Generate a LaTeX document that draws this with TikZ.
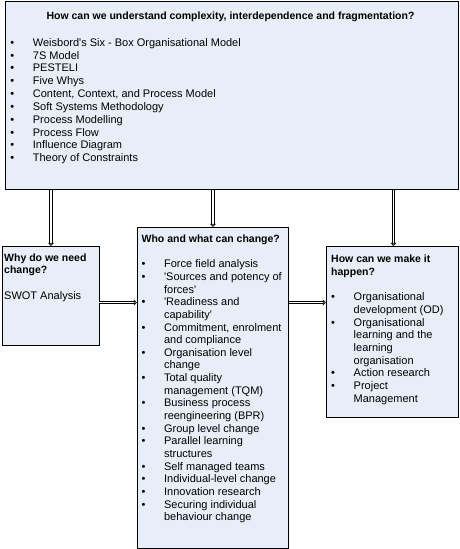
\documentclass[tikz,border=0pt]{standalone}
\usepackage{fontspec}
\setmainfont{Liberation Sans}
\usetikzlibrary{arrows.meta}
\definecolor{boxfill}{RGB}{232,238,247}
\tikzset{
  box/.style={draw=black, line width=0.9pt, fill=boxfill, anchor=north west, inner sep=0pt},
  txt/.style={anchor=north west, inner sep=0pt, align=left, font=\fontsize{11}{12.65}\selectfont},
  hd/.style={anchor=base, inner sep=0pt, font=\fontsize{10.5}{12.7}\selectfont\bfseries},
  conn/.style={draw=black, line width=0.8pt, double=white, double distance=1.6pt,
    -{Triangle[open, length=3.2pt, width=6pt]}}
}
\newcommand\bl{\makebox[22.5pt][l]{•}}
\newcommand\ind{\hspace*{22.5pt}}
\newcommand\sq{\textquotesingle}
\newcommand\hb[1]{{\fontsize{10.5}{12.65}\selectfont\bfseries #1}}
\begin{document}
\begin{tikzpicture}[x=1pt,y=-1pt]
\useasboundingbox (0,0) rectangle (459,549);
\node[box, minimum width=453pt, minimum height=188pt] (top) at (5,1) {};
\node[box, minimum width=97pt, minimum height=99pt] (left) at (1.5,246) {};
\node[box, minimum width=151pt, minimum height=321pt] (mid) at (137,227) {};
\node[box, minimum width=132pt, minimum height=171pt] (right) at (326,246) {};

\node[hd] (toptitle) at (230.5,19) {How can we understand complexity, interdependence and fragmentation?};
\node[txt, font=\fontsize{11}{12.85}\selectfont] (toplist) at (10.2,37) {%
\strut\bl Weisbord\sq s Six - Box Organisational Model\\
\bl 7S Model\\
\bl PESTELI\\
\bl Five Whys\\
\bl Content, Context, and Process Model\\
\bl Soft Systems Methodology\\
\bl Process Modelling\\
\bl Process Flow\\
\bl Influence Diagram\\
\bl Theory of Constraints};

\node[txt] (lefttxt) at (4,252.2) {%
\strut\hb{Why do we need}\\
\hb{change?}\\[12.65pt]
SWOT Analysis};

\node[txt] (midtxt) at (141.4,233.4) {%
\strut\hb{Who and what can change?}\\[12.65pt]
\bl Force field analysis\\
\bl \sq Sources and potency of\\
\ind forces\sq\\
\bl \sq Readiness and\\
\ind capability\sq\\
\bl Commitment, enrolment\\
\ind and compliance\\
\bl Organisation level\\
\ind change\\
\bl Total quality\\
\ind management (TQM)\\
\bl Business process\\
\ind reengineering (BPR)\\
\bl Group level change\\
\bl Parallel learning\\
\ind structures\\
\bl Self managed teams\\
\bl Individual-level change\\
\bl Innovation research\\
\bl Securing individual\\
\ind behaviour change};

\node[txt] (righttxt) at (331,253.9) {%
\strut\hb{How can we make it}\\
\hb{happen?}\\[12.65pt]
\bl Organisational\\
\ind development (OD)\\
\bl Organisational\\
\ind learning and the\\
\ind learning\\
\ind organisation\\
\bl Action research\\
\bl Project\\
\ind Management};

\coordinate (hy) at (0,302.5);
\draw[conn] ([xshift=0.5pt]top.south -| left.north) -- ([xshift=0.5pt]left.north);
\draw[conn] (top.south -| mid.north) -- (mid.north);
\draw[conn] ([xshift=1pt]top.south -| right.north) -- ([xshift=1pt]right.north);
\draw[conn] (left.east |- hy) -- (mid.west |- hy);
\draw[conn] (mid.east |- hy) -- (right.west |- hy);
\end{tikzpicture}
\end{document}
